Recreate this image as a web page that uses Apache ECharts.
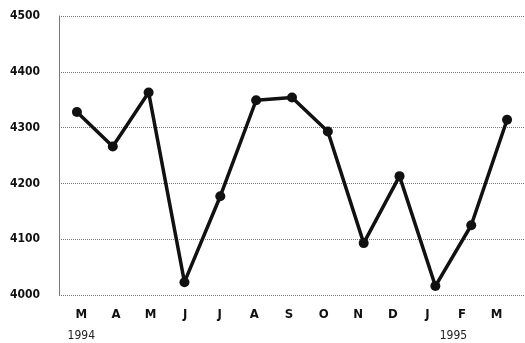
<!DOCTYPE html>
<html><head><meta charset="utf-8">
<script src="https://cdn.jsdelivr.net/npm/echarts@6/dist/echarts.min.js"></script>
<style>html,body{margin:0;padding:0;background:#fff}#c{width:525px;height:343px}</style>
</head><body><div id="c"></div>
<script>
const months = ['M','A','M','J','J','A','S','O','N','D','J','F','M'];
const years = {0:'1994', 10:'1995'};
const values = [4328,4266,4363,4023,4177,4349,4354,4293,4093,4213,4016,4125,4314];
const yTicks = [4000,4100,4200,4300,4400,4500];

const font = '"Liberation Sans Narrow","DejaVu Sans Condensed","Liberation Sans",sans-serif';
const chart = echarts.init(document.getElementById('c'), null, {renderer:'canvas'});
chart.setOption({
  backgroundColor:'#fff',
  animation:false,
  grid:[
    {left:59, right:-3, top:16, bottom:48},
    {left:64, right:11, top:16, bottom:48}
  ],
  xAxis:[
    {type:'category', gridIndex:0, data:months, boundaryGap:true,
     axisLine:{show:false}, axisTick:{show:false}, axisLabel:{show:false}, splitLine:{show:false}},
    {type:'category', gridIndex:1, data:months, boundaryGap:true,
     axisLine:{show:false}, axisTick:{show:false}, splitLine:{show:false},
     axisLabel:{interval:0, margin:12, verticalAlign:'top',
       formatter:(v,i)=> years[i] ? '{m|'+v+'}\n{'+(i===10?'y2':'y')+'|'+years[i]+'}' : '{m|'+v+'}',
       rich:{
         m:{fontFamily:font, fontWeight:'bold', fontSize:13, color:'#111', lineHeight:16},
         y:{fontFamily:font, fontSize:12, color:'#222', lineHeight:26},
         y2:{fontFamily:font, fontSize:12, color:'#222', lineHeight:26, padding:[0,0,0,52]}
       }}}
  ],
  yAxis:[
    {type:'value', gridIndex:0, min:4000, max:4500, interval:100,
     axisLine:{show:true, lineStyle:{color:'#777', width:1}}, axisTick:{show:false},
     axisLabel:{margin:19, fontFamily:font, fontWeight:'bold', fontSize:12, color:'#111',
       formatter:v=> yTicks.includes(v) ? String(v) : ''},
     splitLine:{show:true, lineStyle:{color:'#777', type:'dotted', width:1}}},
    {type:'value', gridIndex:1, min:4000, max:4500, show:false}
  ],
  series:[{
    type:'line', xAxisIndex:0, yAxisIndex:0, data:values,
    lineStyle:{color:'#111', width:3.5},
    itemStyle:{color:'#111'},
    symbol:'circle', symbolSize:10, showAllSymbol:true
  }]
});
</script></body></html>
